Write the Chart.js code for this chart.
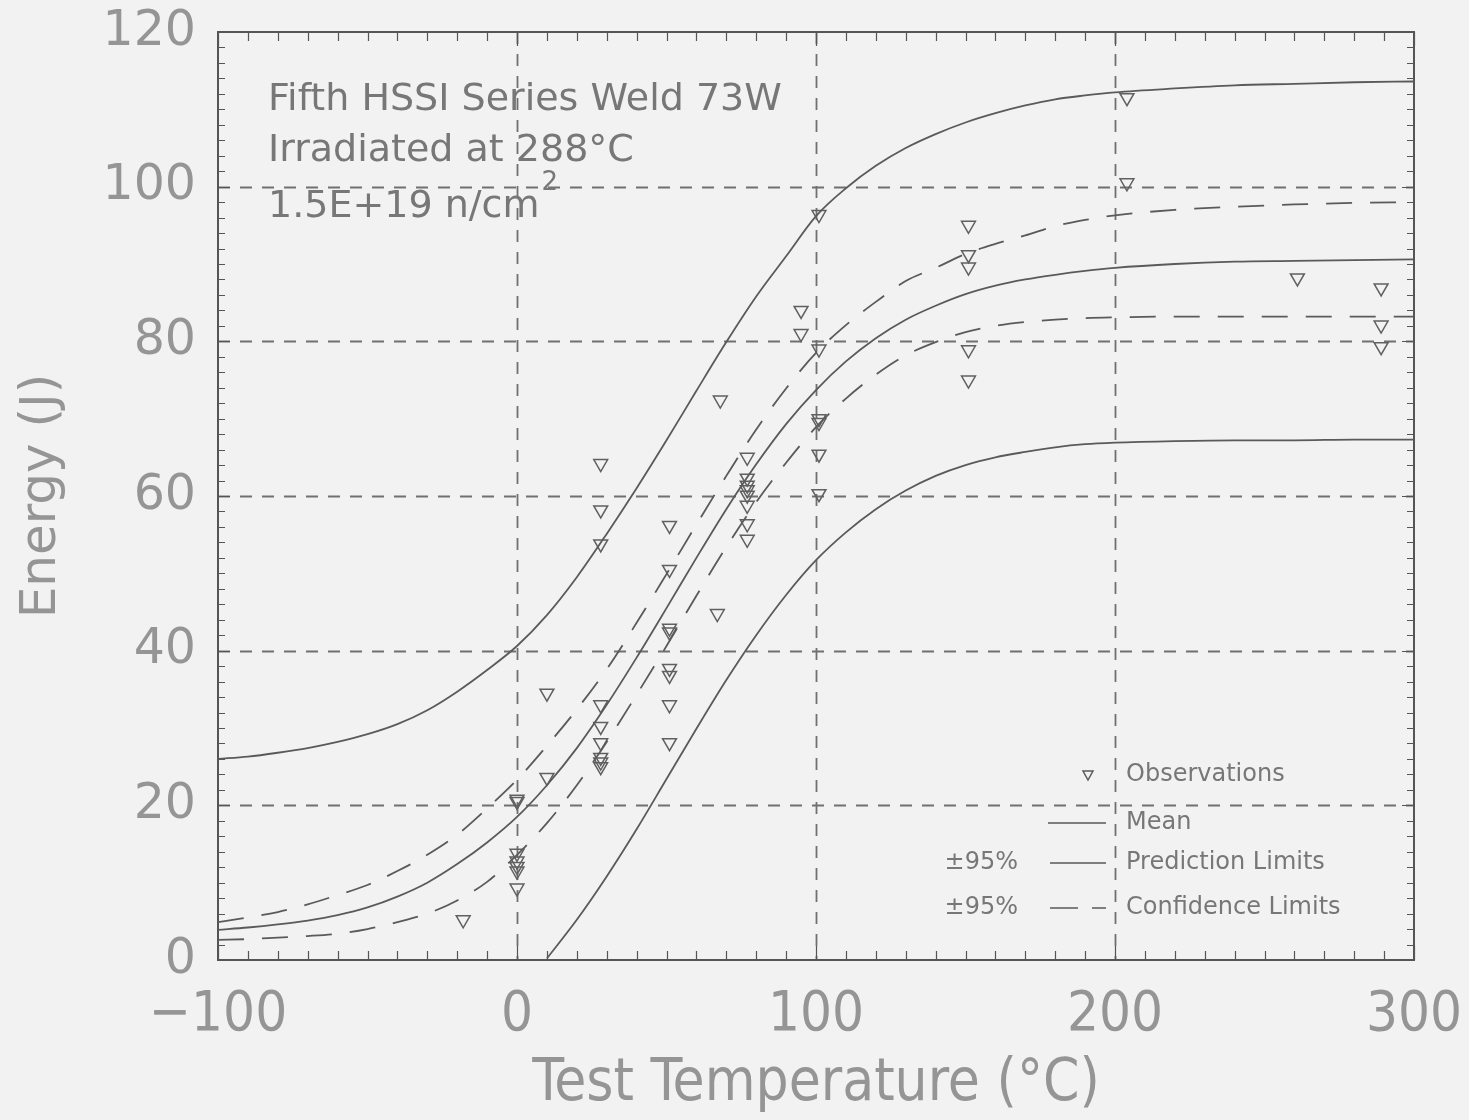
<!DOCTYPE html>
<html>
<head>
<meta charset="utf-8">
<script src="https://cdn.jsdelivr.net/npm/chart.js@4/dist/chart.umd.min.js"></script>
<style>
  html, body { margin: 0; padding: 0; background: #f2f2f2; }
  #wrap { width: 1469px; height: 1120px; }
  canvas { display: block; }
</style>
</head>
<body>
<div id="wrap"><canvas id="c" width="1469" height="1120"></canvas></div>
<script>
// Charpy impact energy vs. test temperature, irradiated weld 73W.

// Temperatures (°C) at which the fitted curves are tabulated
const curveTemps = [-100, -90, -80, -70, -60, -50, -40, -30, -20, -10,
                    0, 10, 20, 30, 40, 50, 60, 70, 80, 90,
                    100, 110, 120, 130, 140, 150, 160, 170, 180, 190,
                    200, 220, 240, 260, 280, 300];

// Mean fitted curve (J)
const meanE = [3.9, 4.2, 4.6, 5.1, 5.8, 6.8, 8.2, 10.0, 12.4, 15.2,
               18.5, 22.6, 27.4, 33.0, 39.1, 45.5, 52.0, 58.3, 64.1, 69.3,
               73.7, 77.4, 80.4, 82.8, 84.6, 86.1, 87.2, 88.0, 88.6, 89.1,
               89.5, 90.0, 90.3, 90.4, 90.5, 90.6];

// Upper 95% prediction limit (J)
const upperPredE = [26.0, 26.3, 26.8, 27.4, 28.2, 29.2, 30.5, 32.3, 34.7, 37.5,
                    40.6, 44.6, 49.5, 55.1, 61.0, 67.2, 73.6, 79.9, 85.8, 91.0,
                    96.2, 99.8, 102.7, 105.0, 106.8, 108.3, 109.5, 110.5, 111.3, 111.8,
                    112.2, 112.7, 113.1, 113.3, 113.5, 113.6];

// Lower 95% prediction limit (J); below 0 J it is off the plot
const lowerPredE = [null, null, null, null, null, null, null, null, null, null,
                    null, 0.2, 5.2, 10.8, 16.9, 23.4, 29.9, 36.2, 42.0, 47.2,
                    51.7, 55.3, 58.3, 60.7, 62.6, 64.0, 65.0, 65.7, 66.3, 66.7,
                    66.9, 67.1, 67.2, 67.2, 67.3, 67.3];

// Upper 95% confidence limit (J)
const upperConfE = [4.9, 5.5, 6.2, 7.2, 8.4, 9.7, 11.5, 13.6, 16.2, 19.6,
                    23.3, 27.7, 32.4, 37.6, 43.6, 49.9, 56.3, 62.6, 68.6, 73.9,
                    78.5, 82.1, 85.1, 87.8, 89.5, 91.3, 92.6, 93.7, 94.9, 95.7,
                    96.3, 97.0, 97.4, 97.7, 97.9, 98.0];

// Lower 95% confidence limit (J)
const lowerConfE = [2.6, 2.7, 2.9, 3.1, 3.4, 4.0, 4.9, 6.0, 7.7, 10.1,
                    13.6, 17.7, 22.6, 28.2, 34.3, 40.6, 47.1, 53.4, 59.2, 64.3,
                    68.9, 72.6, 75.7, 78.2, 79.9, 81.2, 82.0, 82.5, 82.8, 83.0,
                    83.1, 83.2, 83.2, 83.2, 83.2, 83.2];

// Individual Charpy test results
const obsTemp = [-18,
                 0, 0, 0, 0, 0, 0, 0,
                 10, 10,
                 28, 28, 28, 28, 28, 28, 28, 28, 28,
                 51, 51, 51, 51, 51, 51, 51, 51,
                 67, 68,
                 77, 77, 77, 77, 77, 77, 77, 77,
                 95, 95,
                 101, 101, 101, 101, 101, 101,
                 151, 151, 151, 151, 151,
                 204, 204,
                 261,
                 289, 289, 289];
const obsEnergy = [5.2,
                   20.5, 20.8, 13.8, 12.8, 12.1, 11.5, 9.3,
                   34.5, 23.6,
                   64.2, 58.2, 53.8, 33.0, 30.2, 28.1, 26.2, 25.6, 25.0,
                   56.2, 50.5, 42.9, 42.4, 37.7, 36.8, 33.0, 28.1,
                   44.8, 72.4,
                   65.0, 62.3, 61.4, 60.8, 60.1, 58.8, 56.4, 54.4,
                   84.0, 81.0,
                   96.4, 79.0, 70.0, 69.5, 65.4, 60.3,
                   95.0, 91.2, 89.6, 78.9, 75.0,
                   111.5, 100.5,
                   88.2,
                   86.9, 82.1, 79.3];

// Axis ranges and grid values
const xRange = [-100, 300];
const yRange = [0, 120];
const xGridAt = [0, 100, 200];
const yGridAt = [20, 40, 60, 80, 100];

const annotationLines = ['Fifth HSSI Series Weld 73W', 'Irradiated at 288\u00B0C', '1.5E+19 n/cm'];
const legendLabels = ['Observations', 'Mean', 'Prediction Limits', 'Confidence Limits'];
const legendPrefix = '\u00B195%';

const SANS = "'DejaVu Sans', 'Liberation Sans', sans-serif";
const NARROW = "'DejaVu Sans Condensed', 'Liberation Sans Narrow', 'DejaVu Sans', sans-serif";
const INK = '#5a5a5a';
const LABEL = '#959595';

function pairs(xs, ys) {
  const out = [];
  for (let i = 0; i < xs.length; i++) {
    if (ys[i] !== null) out.push({ x: xs[i], y: ys[i] });
  }
  return out;
}

function curve(values, dashed) {
  return {
    type: 'line',
    data: pairs(curveTemps, values),
    borderColor: INK,
    borderWidth: 1.8,
    borderDash: dashed ? [26, 18] : [],
    pointRadius: 0,
    fill: false,
    cubicInterpolationMode: 'monotone'
  };
}

// Keep the plot frame at a fixed place regardless of label overhang
function fixBox(size, prop) {
  return function (s) {
    s[prop] = size;
    s.paddingLeft = 0; s.paddingRight = 0;
    s.paddingTop = 0; s.paddingBottom = 0;
  };
}

// Dashed grid, frame and inward minor ticks
const framePlugin = {
  id: 'frame',
  beforeDatasetsDraw(chart) {
    const { ctx, chartArea: a, scales: { x, y } } = chart;
    ctx.save();
    ctx.strokeStyle = '#707070';
    ctx.lineWidth = 1.8;
    ctx.setLineDash([12, 10]);
    ctx.beginPath();
    for (const v of xGridAt) {
      const px = Math.round(x.getPixelForValue(v)) + 0.5;
      ctx.moveTo(px, a.top); ctx.lineTo(px, a.bottom);
    }
    for (const v of yGridAt) {
      const py = Math.round(y.getPixelForValue(v)) + 0.5;
      ctx.moveTo(a.left, py); ctx.lineTo(a.right, py);
    }
    ctx.stroke();
    ctx.setLineDash([]);

    ctx.strokeStyle = '#555';
    ctx.lineWidth = 2;
    ctx.strokeRect(a.left, a.top, a.right - a.left, a.bottom - a.top);

    ctx.lineWidth = 1.2;
    ctx.beginPath();
    for (let v = yRange[0]; v <= yRange[1]; v += 2) {
      const py = Math.round(y.getPixelForValue(v)) + 0.5;
      const len = v % 20 === 0 ? 12 : 7;
      ctx.moveTo(a.left, py); ctx.lineTo(a.left + len, py);
      ctx.moveTo(a.right, py); ctx.lineTo(a.right - len, py);
    }
    for (let v = xRange[0]; v <= xRange[1]; v += 10) {
      const px = Math.round(x.getPixelForValue(v)) + 0.5;
      const len = v % 100 === 0 ? 14 : 9;
      ctx.moveTo(px, a.bottom); ctx.lineTo(px, a.bottom - len);
      ctx.moveTo(px, a.top); ctx.lineTo(px, a.top + len);
    }
    ctx.stroke();
    ctx.restore();
  }
};

// Specimen description and legend
const notesPlugin = {
  id: 'notes',
  afterDatasetsDraw(chart) {
    const { ctx, chartArea: a } = chart;
    ctx.save();
    ctx.fillStyle = '#777';
    ctx.textBaseline = 'alphabetic';
    ctx.textAlign = 'left';
    ctx.font = `38px ${SANS}`;
    const tx = a.left + 50;
    const base = [a.top + 78, a.top + 129, a.top + 185];
    annotationLines.forEach((t, i) => ctx.fillText(t, tx, base[i]));
    const w = ctx.measureText(annotationLines[2]).width;
    ctx.font = `26px ${SANS}`;
    ctx.fillText('2', tx + w + 2, base[2] - 27);

    // legend
    const lx = a.right - 288;
    const rows = [a.bottom - 185, a.bottom - 137, a.bottom - 97, a.bottom - 52];
    ctx.font = `24px ${SANS}`;
    ctx.textBaseline = 'middle';
    legendLabels.forEach((t, i) => ctx.fillText(t, lx, rows[i]));
    ctx.textAlign = 'right';
    ctx.fillText(legendPrefix, lx - 108, rows[2]);
    ctx.fillText(legendPrefix, lx - 108, rows[3]);

    ctx.strokeStyle = INK;
    ctx.lineWidth = 1.5;
    // triangle symbol
    const cx = lx - 38, cy = rows[0];
    ctx.beginPath();
    ctx.moveTo(cx - 5, cy - 4); ctx.lineTo(cx + 5, cy - 4); ctx.lineTo(cx, cy + 5); ctx.closePath();
    ctx.stroke();
    // line samples
    ctx.beginPath();
    ctx.moveTo(lx - 78, rows[1]); ctx.lineTo(lx - 20, rows[1]);
    ctx.moveTo(lx - 76, rows[2]); ctx.lineTo(lx - 20, rows[2]);
    ctx.moveTo(lx - 76, rows[3]); ctx.lineTo(lx - 48, rows[3]);
    ctx.moveTo(lx - 34, rows[3]); ctx.lineTo(lx - 20, rows[3]);
    ctx.stroke();
    ctx.restore();
  }
};

new Chart(document.getElementById('c'), {
  data: {
    datasets: [
      curve(upperPredE, false),
      curve(upperConfE, true),
      curve(meanE, false),
      curve(lowerConfE, true),
      curve(lowerPredE, false),
      {
        type: 'scatter',
        data: pairs(obsTemp, obsEnergy),
        pointStyle: 'triangle',
        rotation: 180,
        pointRadius: 8,
        pointBorderWidth: 1.5,
        pointBorderColor: '#606060',
        pointBackgroundColor: 'rgba(0,0,0,0)'
      }
    ]
  },
  options: {
    responsive: false,
    animation: false,
    devicePixelRatio: 1,
    layout: { padding: { left: 0, top: 32, right: 55, bottom: 0 } },
    plugins: { legend: { display: false }, tooltip: { enabled: false } },
    scales: {
      x: {
        type: 'linear',
        min: xRange[0], max: xRange[1],
        grid: { display: false, drawTicks: false },
        border: { display: false },
        ticks: {
          stepSize: 100,
          padding: 22,
          color: LABEL,
          font: { family: NARROW, size: 56 },
          callback: v => (v < 0 ? '\u2212' + Math.abs(v) : String(v))
        },
        title: {
          display: true,
          text: 'Test Temperature (\u00B0C)',
          color: LABEL,
          font: { family: NARROW, size: 58 },
          padding: { top: 0, bottom: 0 }
        },
        afterFit: fixBox(160, 'height')
      },
      y: {
        type: 'linear',
        min: yRange[0], max: yRange[1],
        grid: { display: false, drawTicks: false },
        border: { display: false },
        ticks: {
          stepSize: 20,
          padding: 22,
          color: LABEL,
          font: { family: SANS, size: 49 }
        },
        title: {
          display: true,
          text: 'Energy (J)',
          color: LABEL,
          font: { family: SANS, size: 50 },
          padding: { top: 12, bottom: 0 }
        },
        afterFit: fixBox(218, 'width')
      }
    }
  },
  plugins: [framePlugin, notesPlugin]
});
</script>
</body>
</html>
